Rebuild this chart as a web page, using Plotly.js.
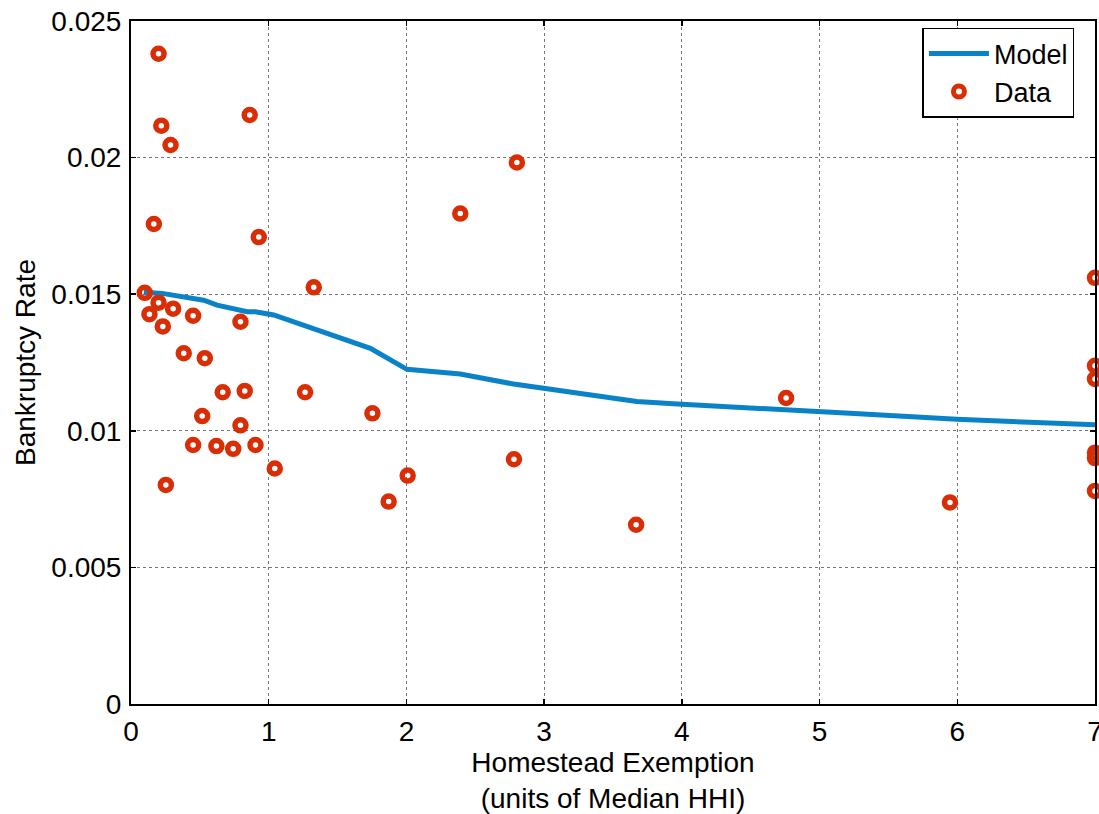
<!DOCTYPE html>
<html>
<head>
<meta charset="utf-8">
<script src="https://cdn.plot.ly/plotly-3.0.1.min.js"></script>
<style>
  html, body { margin: 0; padding: 0; background: #fff; }
  #chart { width: 1099px; height: 814px; }
</style>
</head>
<body>
<div id="chart"></div>
<script>
// Model curve
const modelX = [0.093, 0.226, 0.528, 0.625, 0.843, 0.903, 1.036, 1.327, 1.738, 2.004, 2.391, 2.778, 2.996, 3.673, 4.0, 4.713, 5.22, 5.996, 7.0];
const modelY = [0.01507, 0.01503, 0.01478, 0.0146, 0.01436, 0.01436, 0.01424, 0.01375, 0.01302, 0.01225, 0.01208, 0.01171, 0.01156, 0.01107, 0.01097, 0.01079, 0.01064, 0.01042, 0.01022];

// Observed data
const dataX = [0.20, 0.22, 0.287, 0.862, 0.166, 0.928, 0.10, 1.327, 0.20, 0.134, 0.306, 0.231, 0.451, 0.795, 0.383, 0.536,
               0.666, 0.826, 1.264, 0.517, 0.795, 1.753, 0.451, 0.620, 0.742, 0.904, 1.044, 0.253, 2.009, 1.871,
               2.802, 2.391, 2.781, 3.668, 4.757, 5.947, 7.0, 7.0, 7.0, 7.0, 7.0, 7.0];
const dataY = [0.0238, 0.02117, 0.02046, 0.02156, 0.01757, 0.01709, 0.01505, 0.01525, 0.01469, 0.01427, 0.01447, 0.01382, 0.01421, 0.01399, 0.01284, 0.01266,
               0.01141, 0.01146, 0.01141, 0.01054, 0.01020, 0.01064, 0.00948, 0.00944, 0.00934, 0.00948, 0.00862, 0.00802, 0.00836, 0.00741,
               0.01982, 0.01795, 0.00896, 0.00656, 0.0112, 0.00738, 0.0156, 0.01238, 0.0119, 0.0092, 0.0090, 0.0078];

const xTicks = [0, 1, 2, 3, 4, 5, 6, 7];
const yTicks = [0, 0.005, 0.01, 0.015, 0.02, 0.025];
const yTickText = ['0', '0.005', '0.01', '0.015', '0.02', '0.025'];

const FONT = 'Liberation Sans, Arial, sans-serif';

const traces = [
  {
    x: modelX, y: modelY, type: 'scatter', mode: 'lines', name: 'Model',
    line: { color: '#0a82c8', width: 5 }
  },
  {
    x: dataX, y: dataY, type: 'scatter', mode: 'markers', name: 'Data',
    cliponaxis: false,
    marker: { symbol: 'circle-open', size: 11, color: '#d92d06', line: { width: 5.5, color: '#d92d06' } }
  }
];

const layout = {
  width: 1099, height: 814,
  margin: { l: 130.5, r: 4, t: 20.5, b: 109.5 },
  paper_bgcolor: '#fff', plot_bgcolor: '#fff',
  font: { family: FONT, size: 28, color: '#000' },
  showlegend: true,
  legend: {
    x: 0.821, y: 0.99, xanchor: 'left', yanchor: 'top',
    bgcolor: '#fff', bordercolor: '#000', borderwidth: 1.5,
    font: { family: FONT, size: 27, color: '#000' },
    tracegroupgap: 0, itemwidth: 60
  },
  xaxis: {
    range: [0, 7], tickvals: xTicks, ticktext: xTicks.map(String),
    showgrid: true, gridcolor: '#777', griddash: 'dot', gridwidth: 1,
    zeroline: false, showline: true, linecolor: '#000', linewidth: 2, mirror: 'ticks',
    ticks: 'inside', ticklen: 5, tickcolor: '#000', tickwidth: 1.5,
    ticklabeloverflow: 'allow', ticklabelstandoff: 1,
    tickfont: { family: FONT, size: 28, color: '#000' },
    title: { text: 'Homestead Exemption<br>(units of Median HHI)', font: { family: FONT, size: 28, color: '#000' }, standoff: 0 }
  },
  yaxis: {
    range: [0, 0.025], tickvals: yTicks, ticktext: yTickText,
    showgrid: true, gridcolor: '#777', griddash: 'dot', gridwidth: 1,
    zeroline: false, showline: true, linecolor: '#000', linewidth: 2, mirror: 'ticks',
    ticks: 'inside', ticklen: 5, tickcolor: '#000', tickwidth: 1.5,
    ticklabelstandoff: 2,
    tickfont: { family: FONT, size: 28, color: '#000' },
    title: { text: 'Bankruptcy Rate', font: { family: FONT, size: 28, color: '#000' }, standoff: 8 }
  }
};

Plotly.newPlot('chart', traces, layout, { displayModeBar: false, staticPlot: true });
</script>
</body>
</html>
